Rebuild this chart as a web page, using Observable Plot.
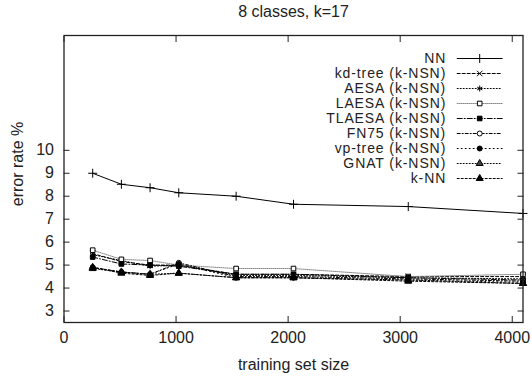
<!DOCTYPE html>
<html><head><meta charset="utf-8">
<script src="https://cdn.jsdelivr.net/npm/d3@7"></script>
<script src="https://cdn.jsdelivr.net/npm/@observablehq/plot@0.6"></script>
<style>
body{margin:0;background:#fff;}
#wrap{position:relative;width:532px;height:377px;font-family:"Liberation Sans",Arial,sans-serif;}
#leg{position:absolute;left:300px;top:36px;}
#leg text{letter-spacing:0.9px;}
</style></head><body>
<div id="wrap"><div id="main"></div><div id="leg"></div></div>
<script>
const title = "8 classes, k=17";
const xLabel = "training set size";
const yLabel = "error rate %";
const xTicks = [0, 1000, 2000, 3000, 4000];
const yTicks = [3, 4, 5, 6, 7, 8, 9, 10];
const sizes = [256, 512, 768, 1024, 1536, 2048, 3072, 4096];
const names = ["NN", "kd-tree (k-NSN)", "AESA (k-NSN)", "LAESA (k-NSN)", "TLAESA (k-NSN)", "FN75 (k-NSN)", "vp-tree (k-NSN)", "GNAT (k-NSN)", "k-NN"];
const nn      = [9.0, 8.52, 8.37, 8.15, 8.0, 7.65, 7.55, 7.25];
const kdtree  = [5.5, 5.15, 5.0, 5.0, 4.6, 4.6, 4.5, 4.5];
const aesa    = [5.45, 5.2, 4.95, 5.0, 4.55, 4.55, 4.45, 4.4];
const laesa   = [5.65, 5.25, 5.2, 5.0, 4.85, 4.85, 4.5, 4.6];
const tlaesa  = [5.35, 5.05, 5.0, 4.95, 4.6, 4.6, 4.45, 4.35];
const fn75    = [4.9, 4.7, 4.6, 5.1, 4.5, 4.5, 4.4, 4.3];
const vptree  = [4.9, 4.7, 4.6, 5.05, 4.45, 4.45, 4.35, 4.25];
const gnat    = [4.85, 4.7, 4.6, 4.65, 4.45, 4.45, 4.35, 4.2];
const knn     = [4.9, 4.65, 4.55, 4.65, 4.45, 4.45, 4.3, 4.2];
const values = [nn, kdtree, aesa, laesa, tlaesa, fn75, vptree, gnat, knn];

// styles (not data)
const styles = [
  {stroke:"#000", dash:null, symbol:"plus", fill:"none", r:3},
  {stroke:"#000", dash:"3,2", symbol:"times", fill:"none", r:2.6},
  {stroke:"#000", dash:"1,2", symbol:"asterisk", fill:"none", r:2.8},
  {stroke:"#888", dash:"1,1", symbol:"square", fill:"#fff", r:2.6},
  {stroke:"#000", dash:"5,2,1,2", symbol:"square", fill:"#000", r:2.6},
  {stroke:"#000", dash:"3,2,1,2", symbol:"circle", fill:"#fff", r:2.5},
  {stroke:"#000", dash:"1,3", symbol:"circle", fill:"#000", r:2.5},
  {stroke:"#000", dash:"1,2", symbol:"triangle", fill:"#444", r:2.6},
  {stroke:"#000", dash:"2,2", symbol:"triangle", fill:"#000", r:2.6}
];

const rows = names.map((n, i) => sizes.map((s, j) => ({name: n, x: s, y: values[i][j]})));
const font = "Liberation Sans, Arial, sans-serif";

const marks = [];
rows.forEach((data, i) => {
  const st = styles[i];
  marks.push(Plot.line(data, {x: "x", y: "y", stroke: st.stroke, strokeWidth: 1, strokeDasharray: st.dash}));
  marks.push(Plot.dot(data, {x: "x", y: "y", symbol: () => st.symbol, r: st.r, fill: st.fill, stroke: "#000", strokeWidth: 1}));
});

const chart = Plot.plot({
  width: 532, height: 377,
  marginTop: 35, marginBottom: 55, marginLeft: 63.5, marginRight: 9.5,
  style: {fontFamily: font, fontSize: "16px", color: "#222", background: "#fff"},
  x: {domain: [0, 4096]},
  y: {domain: [2.5, 15]},
  symbol: {type: "identity"},
  marks: [
    Plot.axisX({anchor: "bottom", ticks: xTicks, tickSize: 0, tickPadding: 9, tickFormat: d3.format("d"), label: null, fill: "#222", fontSize: 16}),
    Plot.axisX({anchor: "bottom", ticks: xTicks, tickSize: -6, tickFormat: () => "", label: null}),
    Plot.axisX({anchor: "top", ticks: xTicks, tickSize: -6, tickFormat: () => "", label: null}),
    Plot.axisY({anchor: "left", ticks: yTicks, tickSize: 0, tickPadding: 10, tickFormat: d3.format("d"), label: null, fill: "#222", fontSize: 16}),
    Plot.axisY({anchor: "left", ticks: yTicks, tickSize: -6, tickFormat: () => "", label: null}),
    Plot.axisY({anchor: "right", ticks: yTicks, tickSize: -6, tickFormat: () => "", label: null}),
    ...marks,
    Plot.frame({stroke: "#222", strokeWidth: 1.3}),
    Plot.text([title], {frameAnchor: "top", dy: -30, fontSize: 16, fill: "#222"}),
    Plot.text([xLabel], {frameAnchor: "bottom", dy: 47, fontSize: 16, fill: "#222"}),
    Plot.text([yLabel], {frameAnchor: "left", textAnchor: "middle", dx: -46, dy: -15, rotate: -90, fontSize: 16, fill: "#222"})
  ]
});
document.getElementById("main").append(chart);

// legend (separate small plot overlaid)
const legRows = names.map((n, i) => [{name: n, x: 0}, {name: n, x: 1}]);
const legMarks = [];
legRows.forEach((data, i) => {
  const st = styles[i];
  legMarks.push(Plot.line(data, {x: "x", y: "name", stroke: st.stroke, strokeWidth: 1, strokeDasharray: st.dash}));
  legMarks.push(Plot.dot([data[0]], {x: () => 0.5, y: "name", symbol: () => st.symbol, r: st.r, fill: st.fill, stroke: "#000", strokeWidth: 1}));
});
const legend = Plot.plot({
  width: 210, height: 165,
  margin: 0,
  style: {fontFamily: font, fontSize: "14px", background: "transparent", overflow: "visible"},
  x: {domain: [0, 1], range: [156.7, 201.7], axis: null},
  y: {type: "point", domain: names, range: [10.7, 154], axis: null},
  symbol: {type: "identity"},
  marks: [
    Plot.text(names, {x: () => 0, y: d => d, dx: -11, textAnchor: "end", fontSize: 14, fill: "#222"}),
    ...legMarks
  ]
});
document.getElementById("leg").append(legend);
</script>
</body></html>
